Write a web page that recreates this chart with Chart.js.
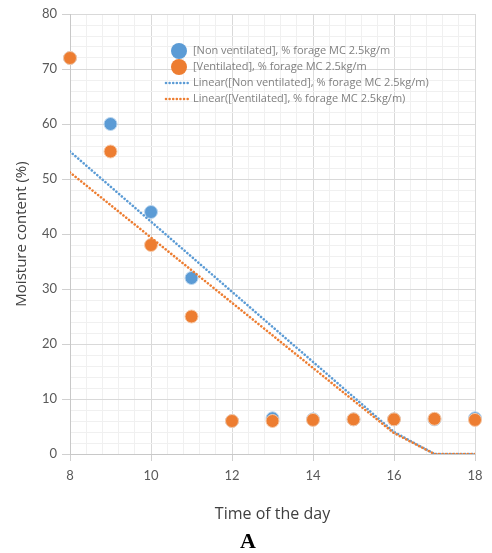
<!DOCTYPE html>
<html lang="en">
<head>
<meta charset="UTF-8">
<title>Moisture content</title>
<script src="https://cdn.jsdelivr.net/npm/chart.js"></script>
<style>
    body { margin: 0; background: #fff; }
    .wrap { position: relative; width: 492px; height: 553px; }
    .label-a {
        position: absolute;
        left: 0; width: 496px; top: 528px;
        text-align: center;
        font: bold 22px "Liberation Serif", "DejaVu Serif", serif;
        color: #000;
    }
</style>
</head>
<body>
<div class="wrap">
    <canvas id="mcChart"></canvas>
    <div class="label-a">A</div>
</div>
<script>
    // values
    const hours = [8, 9, 10, 11, 12, 13, 14, 15, 16, 17, 18];
    const nonVentilated = [72, 60, 44, 32, 6, 6.5, 6.3, 6.3, 6.3, 6.3, 6.5];
    const ventilated = [72, 55, 38, 25, 6, 6, 6.2, 6.3, 6.3, 6.4, 6.2];
    // trendlines (Excel clips them at 0)
    const trendHours = [8, 16, 17, 18];
    const trendNonVent = [55, 4, 0, 0];
    const trendVent = [51.2, 3.8, 0, 0];

    const legendNames = [
        "[Non ventilated], % forage MC 2.5kg/m",
        "[Ventilated], % forage MC 2.5kg/m",
        "Linear([Non ventilated], % forage MC 2.5kg/m)",
        "Linear([Ventilated], % forage MC 2.5kg/m)"
    ];

    const BLUE = "#5b9bd5";
    const ORANGE = "#ed7d31";
    const DOTS = [0.01, 3.6];

    function pts(xs, ys) {
        return xs.map((x, i) => ({ x: x, y: ys[i] }));
    }

    function isMajor(v, step) {
        const r = Math.round(v);
        return Math.abs(v - r) < 1e-6 && r % step === 0;
    }

    // legend drawn inside the plot, like the Excel one
    const insideLegend = {
        id: "insideLegend",
        afterDraw(chart) {
            const c = chart.ctx;
            const x0 = 179, y0 = 51, rowH = 16;
            c.save();
            c.textBaseline = "middle";
            [BLUE, ORANGE].forEach((col, i) => {
                c.beginPath();
                c.arc(x0, y0 + i * rowH, 8, 0, Math.PI * 2);
                c.fillStyle = col;
                c.fill();
            });
            [BLUE, ORANGE].forEach((col, i) => {
                const y = y0 + (i + 2) * rowH;
                c.beginPath();
                c.setLineDash(DOTS);
                c.lineCap = "round";
                c.lineWidth = 2.6;
                c.strokeStyle = col;
                c.moveTo(166, y);
                c.lineTo(190, y);
                c.stroke();
            });
            c.setLineDash([]);
            c.font = "11px 'Open Sans'";
            c.fillStyle = "#808080";
            legendNames.forEach((t, i) => c.fillText(t, 193, y0 + i * rowH));
            c.restore();
        }
    };

    const ctx = document.getElementById("mcChart").getContext("2d");
    const mcChart = new Chart(ctx, {
        data: {
            datasets: [
                {
                    type: "line", label: legendNames[3], data: pts(trendHours, trendVent),
                    borderColor: ORANGE, borderWidth: 2.6, borderDash: DOTS, borderCapStyle: "round",
                    pointRadius: 0, fill: false, order: 0
                },
                {
                    type: "line", label: legendNames[2], data: pts(trendHours, trendNonVent),
                    borderColor: BLUE, borderWidth: 2.6, borderDash: DOTS, borderCapStyle: "round",
                    pointRadius: 0, fill: false, order: 1
                },
                {
                    type: "scatter", label: legendNames[1], data: pts(hours, ventilated),
                    backgroundColor: ORANGE, borderColor: "#f6c9a8", borderWidth: 1,
                    pointRadius: 6.5, clip: false, order: 2
                },
                {
                    type: "scatter", label: legendNames[0], data: pts(hours, nonVentilated),
                    backgroundColor: BLUE, borderColor: "#bcd6ee", borderWidth: 1,
                    pointRadius: 6.5, clip: false, order: 3
                }
            ]
        },
        options: {
            responsive: true,
            maintainAspectRatio: false,
            animation: false,
            layout: { padding: { left: 0, right: 17, top: 14, bottom: 29 } },
            plugins: { legend: { display: false }, tooltip: { enabled: false } },
            scales: {
                x: {
                    type: "linear", min: 8, max: 18,
                    ticks: {
                        stepSize: 0.4, autoSkip: false, maxRotation: 0, padding: 7,
                        color: "#595959", font: { family: "Lato", size: 13 },
                        callback: v => isMajor(v, 2) ? String(Math.round(v)) : ""
                    },
                    grid: {
                        color: c => isMajor(c.tick.value, 2) ? "#d9d9d9" : "#f0f0f0",
                        tickColor: c => isMajor(c.tick.value, 2) ? "#d0d0d0" : "rgba(0,0,0,0)",
                        tickLength: 7
                    },
                    border: { color: "#c8c8c8" },
                    title: {
                        display: true, text: "Time of the day", color: "#404040",
                        font: { family: "Open Sans", size: 16 }, padding: { top: 7, bottom: 0 }
                    },
                    afterFit: s => { s.height = 70; }
                },
                y: {
                    min: 0, max: 80,
                    ticks: {
                        stepSize: 2, autoSkip: false, padding: 5,
                        color: "#595959", font: { family: "Lato", size: 13 },
                        callback: v => isMajor(v, 10) ? String(Math.round(v)) : ""
                    },
                    grid: {
                        color: c => isMajor(c.tick.value, 10) ? "#d9d9d9" : "#f0f0f0",
                        tickColor: c => isMajor(c.tick.value, 10) ? "#d0d0d0" : "rgba(0,0,0,0)",
                        tickLength: 8
                    },
                    border: { color: "#c8c8c8" },
                    title: {
                        display: true, text: "Moisture content (%)", color: "#404040",
                        font: { family: "Open Sans", size: 15 }, padding: { top: 13, bottom: 0 }
                    },
                    afterFit: s => { s.width = 70; }
                }
            }
        },
        plugins: [insideLegend]
    });
</script>
</body>
</html>
